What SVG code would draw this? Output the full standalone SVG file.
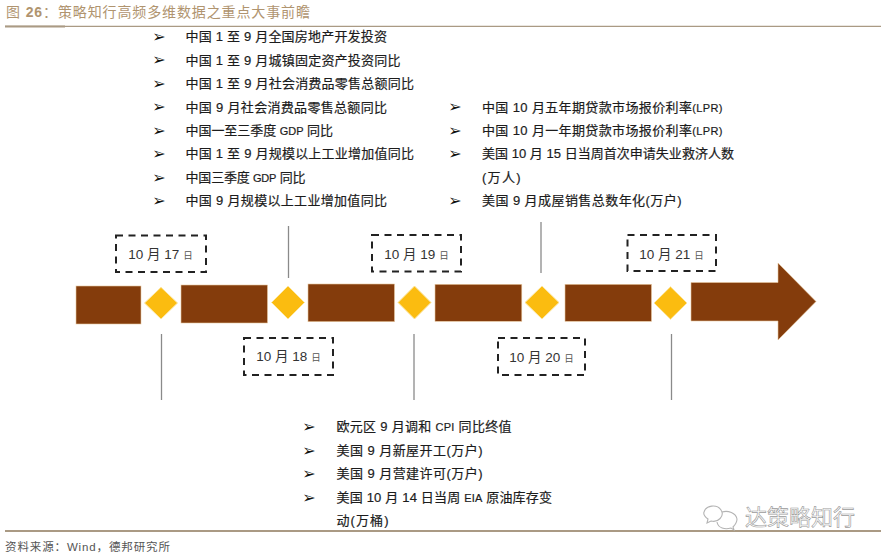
<svg xmlns="http://www.w3.org/2000/svg" width="883" height="556" viewBox="0 0 883 556">
<style>
text{font-family:"Liberation Sans","Noto Sans CJK SC",sans-serif}
.t{font-size:13px;fill:#1c1c1c;stroke:#1c1c1c;stroke-width:.2}
.n{font-size:11px}
.b{font-size:16px;fill:#111;font-family:"DejaVu Sans",sans-serif;text-anchor:middle}
.d{font-size:13.5px;fill:#333;text-anchor:middle}
.s{font-size:9.5px;fill:#555}
.box{fill:none;stroke:#222;stroke-width:2;stroke-dasharray:7 5.5}
.bar{fill:#843c0c;stroke:#e8c8a0;stroke-width:.6}
.dia{fill:#fbbc10;stroke:#fce6a0;stroke-width:1}
.c{stroke:#8a8a8a;stroke-width:1.3;fill:none}
.rule{stroke:#aa9a84;fill:none}
</style>
<rect width="883" height="556" fill="#fff"/>
<g id="header">
<text x="6" y="17" font-size="14" fill="#b0946f" textLength="304" lengthAdjust="spacing">图 <tspan font-weight="bold">26</tspan>：策略知行高频多维数据之重点大事前瞻</text>
<path class="rule" stroke-width="1.2" d="M5 26.3H881"/>
<path class="rule" stroke-width="2" d="M5 26.6H65"/>
</g>
<g id="connectors">
<path class="c" d="M161.5 334V400"/>
<path class="c" d="M288.5 226V278"/>
<path class="c" d="M414 334V400"/>
<path class="c" d="M541 222V273"/>
<path class="c" d="M671.5 334V400"/>
</g>
<g id="timeline-seg-1"><rect class="bar" x="76" y="286" width="65" height="38"/></g>
<g id="milestone-1017"><path class="dia" d="M161 287.3L177.5 303L161 319L144.5 303Z"/></g>
<g id="timeline-seg-2"><rect class="bar" x="181" y="285" width="86.5" height="38"/></g>
<g id="milestone-1018"><path class="dia" d="M288 286L304.5 302.5L288 319L271.5 302.5Z"/></g>
<g id="timeline-seg-3"><rect class="bar" x="308" y="284" width="86.5" height="37.7"/></g>
<g id="milestone-1019"><path class="dia" d="M414.5 286L431 302.5L414.5 319L398 302.5Z"/></g>
<g id="timeline-seg-4"><rect class="bar" x="435" y="284.3" width="86.8" height="37"/></g>
<g id="milestone-1020"><path class="dia" d="M542 286L559 302.5L542 319L525 302.5Z"/></g>
<g id="timeline-seg-5"><rect class="bar" x="565" y="284.3" width="86.5" height="37"/></g>
<g id="milestone-1021"><path class="dia" d="M670.5 286.7L687 303L670.5 319.3L654 303Z"/></g>
<g id="timeline-arrow"><path class="bar" d="M691 282.5H778V263L816 301.5L778 340V321H691Z"/></g>
<g id="date-1017"><rect class="box" x="116" y="235.5" width="90" height="36.5"/><text class="d" x="160.5" y="259">10 月 17 <tspan class="s">日</tspan></text></g>
<g id="date-1018"><rect class="box" x="244" y="338" width="89" height="37"/><text class="d" x="288.5" y="361">10 月 18 <tspan class="s">日</tspan></text></g>
<g id="date-1019"><rect class="box" x="372" y="235" width="89" height="36.5"/><text class="d" x="416.5" y="258.5">10 月 19 <tspan class="s">日</tspan></text></g>
<g id="date-1020"><rect class="box" x="498" y="338" width="87" height="37"/><text class="d" x="541.5" y="362">10 月 20 <tspan class="s">日</tspan></text></g>
<g id="date-1021"><rect class="box" x="627.5" y="235" width="88.5" height="36"/><text class="d" x="671.5" y="259">10 月 21 <tspan class="s">日</tspan></text></g>
<g id="list-1017">
<text class="b" x="159" y="41.5">➢</text><text class="t" x="185.5" y="41" textLength="201.5">中国 1 至 9 月全国房地产开发投资</text>
<text class="b" x="159" y="65">➢</text><text class="t" x="185.5" y="64.5" textLength="215">中国 1 至 9 月城镇固定资产投资同比</text>
<text class="b" x="159" y="88.5">➢</text><text class="t" x="185.5" y="88" textLength="228.5">中国 1 至 9 月社会消费品零售总额同比</text>
<text class="b" x="159" y="112">➢</text><text class="t" x="185.5" y="111.5" textLength="201.5">中国 9 月社会消费品零售总额同比</text>
<text class="b" x="159" y="135.5">➢</text><text class="t" x="185.5" y="135" textLength="147.5">中国一至三季度 <tspan class="n">GDP</tspan> 同比</text>
<text class="b" x="159" y="158.5">➢</text><text class="t" x="185.5" y="158" textLength="228.5">中国 1 至 9 月规模以上工业增加值同比</text>
<text class="b" x="159" y="182.5">➢</text><text class="t" x="185.5" y="182" textLength="120">中国三季度 <tspan class="n">GDP</tspan> 同比</text>
<text class="b" x="159" y="205.5">➢</text><text class="t" x="185.5" y="205" textLength="201.5">中国 9 月规模以上工业增加值同比</text>
</g>
<g id="list-1020">
<text class="b" x="455" y="112">➢</text><text class="t" x="482" y="111.5" textLength="240.5">中国 10 月五年期贷款市场报价利率<tspan class="n">(LPR)</tspan></text>
<text class="b" x="455" y="135.5">➢</text><text class="t" x="482" y="135" textLength="240.5">中国 10 月一年期贷款市场报价利率<tspan class="n">(LPR)</tspan></text>
<text class="b" x="455" y="158.5">➢</text><text class="t" x="482" y="158" textLength="252">美国 10 月 15 日当周首次申请失业救济人数</text>
<text class="t" x="482" y="182" textLength="38.5">(万人)</text>
<text class="b" x="455" y="205.5">➢</text><text class="t" x="482" y="205" textLength="199.5">美国 9 月成屋销售总数年化(万户)</text>
</g>
<g id="list-1018">
<text class="b" x="309" y="431.5">➢</text><text class="t" x="336.5" y="431" textLength="175">欧元区 9 月调和 <tspan class="n">CPI</tspan> 同比终值</text>
<text class="b" x="309" y="455.5">➢</text><text class="t" x="336.5" y="455" textLength="146">美国 9 月新屋开工(万户)</text>
<text class="b" x="309" y="478.5">➢</text><text class="t" x="336.5" y="478" textLength="146">美国 9 月营建许可(万户)</text>
<text class="b" x="309" y="502.5">➢</text><text class="t" x="336.5" y="502" textLength="215.5">美国 10 月 14 日当周 <tspan class="n">EIA</tspan> 原油库存变</text>
<text class="t" x="336.5" y="525" textLength="52">动(万桶)</text>
</g>
<g id="footer">
<path class="rule" stroke-width="2" d="M5 531H881"/>
<text x="5" y="551" font-size="11.5" fill="#555" textLength="165">资料来源：Wind，德邦研究所</text>
</g>
<g id="watermark">
<path d="M704 512c2-7 13-8 17-2c4 6-3 13-10 11l-4 2l1-4c-3-2-5-4-4-7ZM722 512c6-2 14 1 15 7c0 4-2 6-4 8l1 3l-3-2c-6 2-13 0-14-6" fill="#fff" stroke="#b4b4b4" stroke-width="1.1"/>
<text x="745" y="525" font-size="22" fill="#fff" stroke="#9a9a9a" stroke-width=".6" textLength="110">达策略知行</text>
</g>
</svg>
